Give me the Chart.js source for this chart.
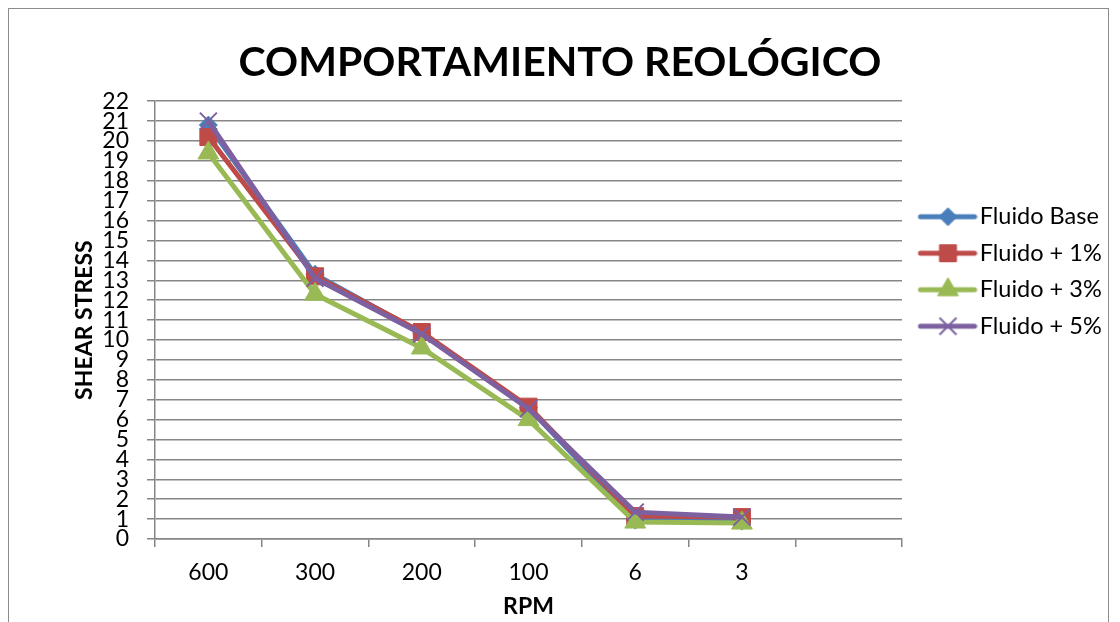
<!DOCTYPE html>
<html>
<head>
<meta charset="utf-8">
<script src="https://cdn.jsdelivr.net/npm/chart.js@4.4.1/dist/chart.umd.min.js"></script>
<style>
html,body{margin:0;padding:0;background:#fff;width:1120px;height:622px;overflow:hidden;}
#frame{position:absolute;left:8px;top:8px;width:1101px;height:700px;border:1px solid #8c8c8c;box-sizing:border-box;}
#wrap{position:absolute;left:0;top:0;width:1120px;height:622px;}
</style>
</head>
<body>
<div id="frame"></div>
<div id="wrap"><canvas id="c" width="1120" height="622"></canvas></div>
<script>
// ---- data ----
const categories = ['600', '300', '200', '100', '6', '3', ''];
const fluidoBase = [20.8, 13.3, 10.35, 6.6, 0.95, 0.9, null];
const fluido1 = [20.2, 13.2, 10.4, 6.65, 1.15, 1.1, null];
const fluido3 = [19.4, 12.3, 9.6, 6.0, 0.85, 0.8, null];
const fluido5 = [21.0, 13.1, 10.3, 6.55, 1.35, 1.1, null];
const seriesNames = ['Fluido Base', 'Fluido + 1%', 'Fluido + 3%', 'Fluido + 5%'];
const yTicksMin = 0, yTicksMax = 22, yTicksStep = 1;

const colors = ['#4A7EBB', '#BE4B48', '#98B954', '#7D60A0'];
const styles = ['rectRot', 'rect', 'triangle', 'crossRot'];
const radii = [9, 12, 12, 12];
const pbw = [1, 1, 1, 2];
const FONT = 'Lato';

function drawMarker(g, style, r, x, y) {
  if (Chart.helpers && Chart.helpers.drawPoint) {
    Chart.helpers.drawPoint(g, {pointStyle: style, radius: r, borderWidth: g.lineWidth, rotation: 0}, x, y);
  }
}
function makeIcon(i) {
  const c = document.createElement('canvas');
  c.width = 72; c.height = 30;
  const g = c.getContext('2d');
  g.strokeStyle = colors[i]; g.lineWidth = 5; g.lineCap = 'round';
  g.beginPath(); g.moveTo(15, 15); g.lineTo(69, 15); g.stroke();
  g.fillStyle = colors[i]; g.lineWidth = pbw[i]; g.lineCap = 'butt';
  drawMarker(g, styles[i], radii[i], 42.5, 15);
  return c;
}
const icons = [0, 1, 2, 3].map(makeIcon);

const seriesData = [fluidoBase, fluido1, fluido3, fluido5];
const datasets = seriesData.map((d, i) => ({
  label: seriesNames[i],
  data: d,
  borderColor: colors[i],
  backgroundColor: colors[i],
  borderWidth: 5,
  pointStyle: styles[i],
  pointRadius: radii[i],
  pointBackgroundColor: colors[i],
  pointBorderColor: colors[i],
  pointBorderWidth: pbw[i],
  pointHoverRadius: radii[i],
  tension: 0,
  order: 4 - i
}));

const legendPlace = {
  id: 'legendPlace',
  beforeLayout(chart) {
    const lg = chart.legend;
    if (lg && !lg._fixedFit) {
      const orig = lg.fit;
      lg.fit = function () { orig.call(this); this.width = 218; };
      lg._fixedFit = true;
    }
  },
  afterLayout(chart) {
    const lg = chart.legend;
    if (lg) { lg.top = 192; }
  }
};

new Chart(document.getElementById('c'), {
  type: 'line',
  data: { labels: categories, datasets },
  plugins: [legendPlace],
  options: {
    responsive: false,
    animation: false,
    events: [],
    devicePixelRatio: 1,
    layout: { padding: 0 },
    plugins: {
      title: {
        display: true,
        text: 'COMPORTAMIENTO REOLÓGICO',
        color: '#000',
        font: { family: FONT, size: 41, weight: 'bold', lineHeight: 1.2 },
        padding: { top: 38, bottom: 14 }
      },
      legend: {
        display: true,
        position: 'right',
        align: 'start',
        labels: {
          usePointStyle: true,
          pointStyleWidth: 53,
          padding: 13,
          color: '#000',
          font: { family: FONT, size: 23.5 },
          generateLabels(chart) {
            return chart.data.datasets.map((ds, i) => ({
              text: ds.label,
              pointStyle: icons[i],
              fillStyle: ds.borderColor,
              strokeStyle: ds.borderColor,
              lineWidth: 0,
              hidden: false,
              datasetIndex: i,
              fontColor: '#000'
            }));
          }
        }
      },
      tooltip: { enabled: false }
    },
    scales: {
      x: {
        offset: true,
        grid: { display: true, drawOnChartArea: false, drawTicks: true, tickLength: 8, color: '#868686', lineWidth: 1.5, offset: true },
        border: { color: '#868686', width: 1.5 },
        ticks: { padding: 12, color: '#000', font: { family: FONT, size: 23 }, autoSkip: false, maxRotation: 0 },
        title: { display: true, text: 'RPM', color: '#000', font: { family: FONT, size: 23, weight: 'bold' }, padding: { top: 0, bottom: 2 } },
        afterFit(s) { s.height = 83; }
      },
      y: {
        min: yTicksMin,
        max: yTicksMax,
        grid: { color: '#868686', lineWidth: 1.5, tickLength: 8, drawTicks: true },
        border: { color: '#868686', width: 1.5 },
        ticks: { stepSize: yTicksStep, autoSkip: false, padding: 18, color: '#000', font: { family: FONT, size: 23 } },
        title: { display: true, text: 'SHEAR STRESS', color: '#000', font: { family: FONT, size: 23, weight: 'bold' }, padding: { top: 71, bottom: 0 } },
        afterFit(s) { s.width = 155; }
      }
    }
  }
});
</script>
</body>
</html>
